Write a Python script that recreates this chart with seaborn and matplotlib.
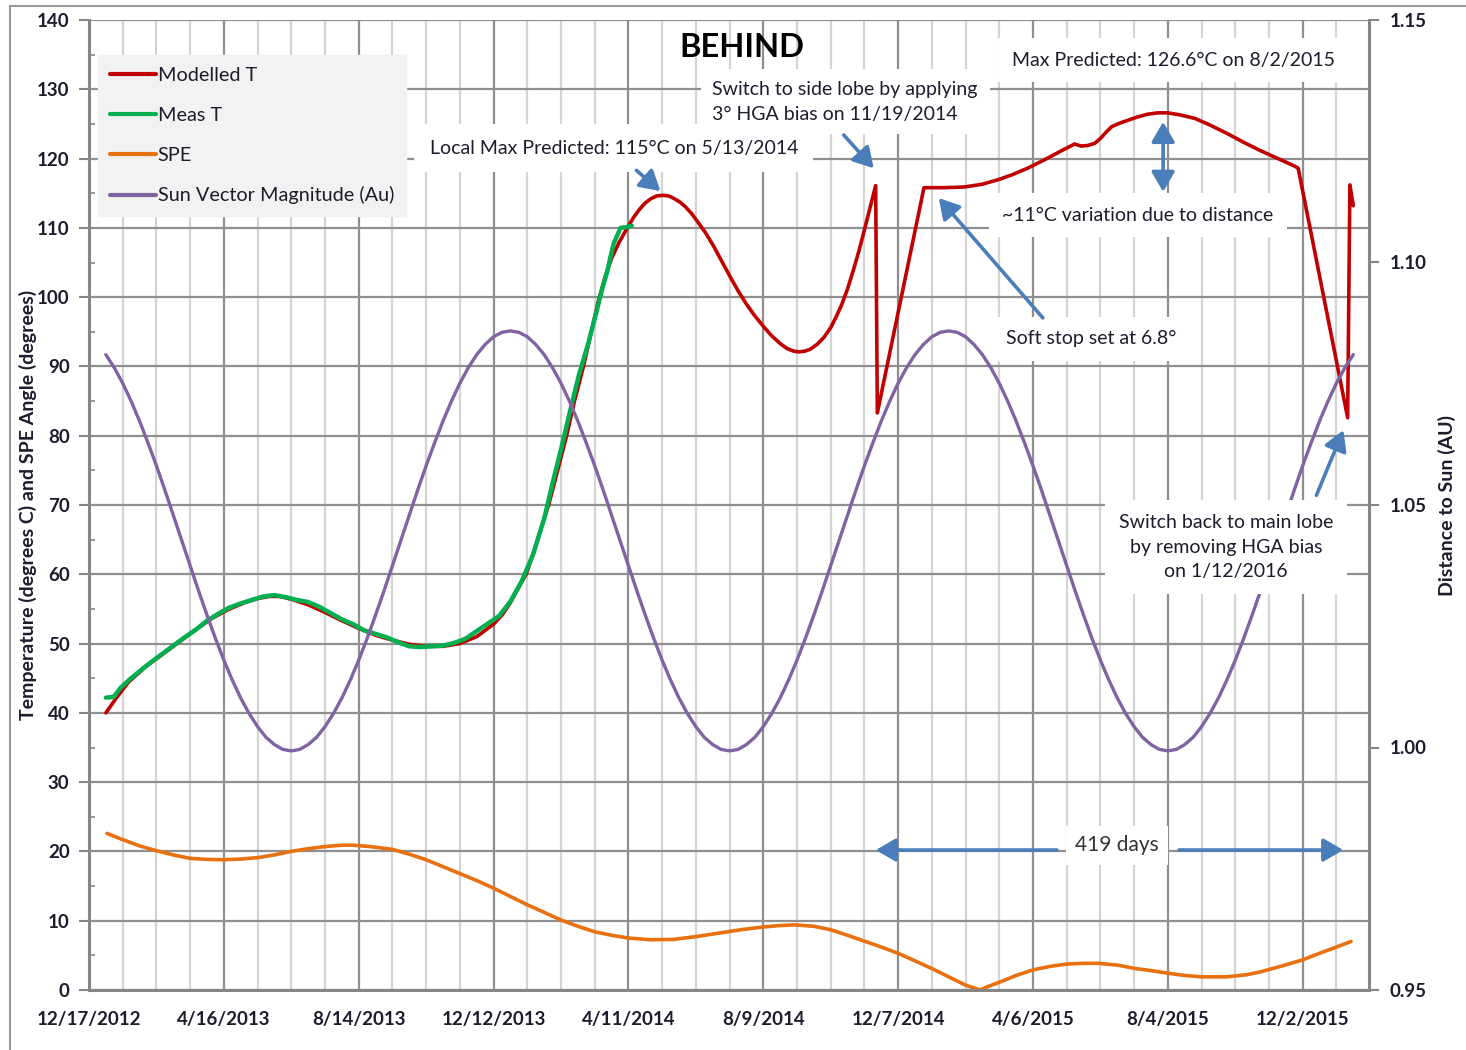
import numpy as np
import pandas as pd
import matplotlib
matplotlib.use("Agg")
import matplotlib.pyplot as plt
import matplotlib.dates as mdates
import matplotlib.ticker as mticker
from matplotlib.lines import Line2D
import seaborn as sns

# ---------------- data ----------------
start_date = "2012-12-17"
end_date = "2016-01-30"

x_tick_labels = ["12/17/2012", "4/16/2013", "8/14/2013", "12/12/2013", "4/11/2014",
                 "8/9/2014", "12/7/2014", "4/6/2015", "8/4/2015", "12/2/2015"]
left_ticks = [0, 10, 20, 30, 40, 50, 60, 70, 80, 90, 100, 110, 120, 130, 140]
right_ticks = [0.95, 1.00, 1.05, 1.10, 1.15]

# all x values are days since 12/17/2012
modelled_day = [15, 25, 35, 50, 65, 80, 95, 110, 125, 140, 150, 160, 170, 180, 195, 210,
                225, 240, 255, 270, 285, 300, 315, 330, 345, 360, 368, 375, 382, 389,
                396, 402, 409, 417, 425, 432, 440, 447, 453, 459, 465, 472, 479, 485,
                490, 495, 500, 505, 511, 516, 521, 526, 531, 536, 542, 549, 556, 563,
                571, 578, 585, 592, 600, 607, 615, 621, 627, 632, 637, 642, 648, 654,
                660, 665, 670, 675, 680, 685, 690, 695, 700, 701.5, 743, 761, 779, 795,
                810, 822, 835, 850, 865, 877, 883, 889, 895, 900, 905, 910, 917, 924,
                933, 942, 951, 960, 971, 984, 998, 1013, 1028, 1043, 1058, 1073, 1076,
                1120, 1122, 1125]
modelled_T = [40.0, 42.3, 44.4, 46.6, 48.4, 50.2, 52.0, 53.7, 55.0, 56.0, 56.5, 56.8, 56.8,
              56.4, 55.6, 54.5, 53.3, 52.2, 51.2, 50.5, 49.9, 49.6, 49.6, 50.0, 51.0, 52.8,
              54.2, 55.9, 58.0, 60.0, 63.3, 66.5, 70.0, 75.0, 80.0, 85.0, 90.0, 95.0, 99.3,
              102.8, 105.6, 108.0, 110.0, 111.6, 112.7, 113.6, 114.2, 114.6, 114.7, 114.6,
              114.2, 113.7, 113.0, 112.1, 110.8, 109.2, 107.3, 105.2, 102.8, 100.8, 99.0,
              97.4, 95.8, 94.5, 93.3, 92.6, 92.2, 92.1, 92.2, 92.5, 93.2, 94.2, 95.6, 97.2,
              99.0, 101.2, 103.8, 106.6, 109.7, 112.9, 116.1, 83.3, 115.8, 115.8, 115.9,
              116.3, 117.0, 117.7, 118.6, 119.8, 121.1, 122.1, 121.8, 121.9, 122.2, 122.9,
              123.8, 124.6, 125.1, 125.5, 126.0, 126.4, 126.6, 126.6, 126.3, 125.8, 124.8,
              123.6, 122.3, 121.1, 120.0, 118.9, 118.6, 82.6, 116.2, 113.2]

meas_day = [15, 22, 28, 36, 45, 55, 65, 75, 85, 95, 105, 115, 125, 135, 145, 155, 165,
            175, 185, 195, 205, 215, 225, 235, 245, 255, 265, 275, 285, 295, 305, 315,
            325, 335, 345, 355, 365, 375, 385, 395, 405, 413, 420, 428, 436, 444, 451,
            456, 461, 464, 467, 473, 478, 483]
meas_T = [42.2, 42.3, 43.6, 44.8, 46.0, 47.3, 48.5, 49.7, 50.9, 52.0, 53.3, 54.3, 55.2,
          55.8, 56.3, 56.8, 57.0, 56.7, 56.3, 56.0, 55.3, 54.4, 53.5, 52.8, 51.9, 51.4,
          50.9, 50.2, 49.6, 49.5, 49.6, 49.7, 50.1, 50.7, 51.8, 52.9, 54.0, 56.1, 59.0,
          62.8, 68.0, 73.5, 78.0, 83.5, 88.8, 93.2, 97.5, 100.8, 103.6, 105.8, 107.8,
          110.0, 110.1, 110.3]

spe_day = [16, 30, 45, 60, 75, 90, 105, 120, 135, 150, 165, 180, 195, 210, 225, 235, 250,
           270, 285, 300, 315, 330, 345, 360, 375, 390, 405, 420, 435, 450, 465, 480, 500,
           520, 540, 560, 580, 600, 615, 628, 645, 660, 675, 690, 705, 720, 735, 750, 765,
           780, 793, 800, 813, 825, 840, 855, 870, 885, 898, 915, 931, 945, 961, 975, 990,
           1012, 1030, 1042, 1060, 1079, 1095, 1110, 1123]
spe_deg = [22.6, 21.7, 20.8, 20.1, 19.5, 19.0, 18.85, 18.8, 18.9, 19.1, 19.5, 20.0, 20.4,
           20.7, 20.9, 20.9, 20.7, 20.3, 19.6, 18.8, 17.8, 16.8, 15.8, 14.7, 13.5, 12.3,
           11.2, 10.1, 9.2, 8.4, 7.9, 7.5, 7.25, 7.3, 7.7, 8.2, 8.7, 9.1, 9.3, 9.4, 9.2,
           8.7, 7.9, 7.05, 6.2, 5.3, 4.2, 3.1, 1.9, 0.7, 0.0, 0.5, 1.3, 2.1, 2.9, 3.4, 3.75,
           3.85, 3.85, 3.6, 3.1, 2.8, 2.4, 2.1, 1.9, 1.9, 2.2, 2.6, 3.4, 4.3, 5.3, 6.2, 7.0]

sun_day = [15, 22.5, 30, 37.5, 45, 52.5, 60, 67.5, 75, 82.5, 90, 97.5, 105, 112.5, 120,
           127.5, 135, 142.5, 150, 157.5, 165, 172.5, 180, 187.5, 195, 202.5, 210, 217.5,
           225, 232.5, 240, 247.5, 255, 262.5, 270, 277.5, 285, 292.5, 300, 307.5, 315,
           322.5, 330, 337.5, 345, 352.5, 360, 367.5, 375, 382.5, 390, 397.5, 405, 412.5,
           420, 427.5, 435, 442.5, 450, 457.5, 465, 472.5, 480, 487.5, 495, 502.5, 510,
           517.5, 525, 532.5, 540, 547.5, 555, 562.5, 570, 577.5, 585, 592.5, 600, 607.5,
           615, 622.5, 630, 637.5, 645, 652.5, 660, 667.5, 675, 682.5, 690, 697.5, 705,
           712.5, 720, 727.5, 735, 742.5, 750, 757.5, 765, 772.5, 780, 787.5, 795, 802.5,
           810, 817.5, 825, 832.5, 840, 847.5, 855, 862.5, 870, 877.5, 885, 892.5, 900,
           907.5, 915, 922.5, 930, 937.5, 945, 952.5, 960, 967.5, 975, 982.5, 990, 997.5,
           1005, 1012.5, 1020, 1027.5, 1035, 1042.5, 1050, 1057.5, 1065, 1072.5, 1080,
           1087.5, 1095, 1102.5, 1110, 1117.5, 1125]
sun_au = [1.0810, 1.0783, 1.0751, 1.0714, 1.0673, 1.0628, 1.0581, 1.0531, 1.0479, 1.0427,
          1.0375, 1.0323, 1.0273, 1.0225, 1.0180, 1.0139, 1.0102, 1.0070, 1.0043, 1.0021,
          1.0006, 0.9996, 0.9993,
          0.9996, 1.0006, 1.0021, 1.0043, 1.0070, 1.0102, 1.0139, 1.0180, 1.0225, 1.0273,
          1.0323, 1.0375, 1.0427, 1.0479, 1.0531, 1.0581, 1.0628, 1.0673, 1.0714, 1.0751,
          1.0783, 1.0810, 1.0831, 1.0847, 1.0856, 1.0859,
          1.0856, 1.0847, 1.0831, 1.0810, 1.0783, 1.0751, 1.0714, 1.0673, 1.0628, 1.0581,
          1.0531, 1.0479, 1.0427, 1.0375, 1.0323, 1.0273, 1.0225, 1.0180, 1.0139, 1.0102,
          1.0070, 1.0043, 1.0021, 1.0006, 0.9996, 0.9993,
          0.9996, 1.0006, 1.0021, 1.0043, 1.0070, 1.0102, 1.0139, 1.0180, 1.0225, 1.0273,
          1.0323, 1.0375, 1.0427, 1.0479, 1.0531, 1.0581, 1.0628, 1.0673, 1.0714, 1.0751,
          1.0783, 1.0810, 1.0831, 1.0847, 1.0856, 1.0859,
          1.0856, 1.0847, 1.0831, 1.0810, 1.0783, 1.0751, 1.0714, 1.0673, 1.0628, 1.0581,
          1.0531, 1.0479, 1.0427, 1.0375, 1.0323, 1.0273, 1.0225, 1.0180, 1.0139, 1.0102,
          1.0070, 1.0043, 1.0021, 1.0006, 0.9996, 0.9993,
          0.9996, 1.0006, 1.0021, 1.0043, 1.0070, 1.0102, 1.0139, 1.0180, 1.0225, 1.0273,
          1.0323, 1.0375, 1.0427, 1.0479, 1.0531, 1.0581, 1.0628, 1.0673, 1.0714, 1.0751,
          1.0783, 1.0810]

series_names = ["Modelled T", "Meas T", "SPE", "Sun Vector Magnitude (Au)"]
series_colors = ["#C00000", "#00B050", "#E8700E", "#8064A2"]

assert len(modelled_day) == len(modelled_T)
assert len(meas_day) == len(meas_T)
assert len(spe_day) == len(spe_deg)
assert len(sun_day) == len(sun_au)

# ---------------- styling ----------------
sns.set_style("white")
plt.rcParams["font.family"] = ["Lato", "DejaVu Sans"]
TXT = "#1c1c2c"
GRID_DARK = "#8f8f8f"
GRID_LIGHT = "#d4d4d4"
SPINE = "#868686"
BLUE = "#4A7EBB"

base = pd.Timestamp(start_date)


def to_dates(days):
    return base + pd.to_timedelta(np.asarray(days, dtype=float), unit="D")


def dnum(day):
    return mdates.date2num(base + pd.Timedelta(days=day))


df_mod = pd.DataFrame({"date": to_dates(modelled_day), "v": modelled_T})
df_meas = pd.DataFrame({"date": to_dates(meas_day), "v": meas_T})
df_spe = pd.DataFrame({"date": to_dates(spe_day), "v": spe_deg})
df_sun = pd.DataFrame({"date": to_dates(sun_day), "v": sun_au})

fig = plt.figure(figsize=(14.66, 10.5), dpi=100)
W, H = 1466, 1050
ax_l, ax_r, ax_t, ax_b = 89, 1369, 20, 990
ax = fig.add_axes([ax_l / W, 1 - ax_b / H, (ax_r - ax_l) / W, (ax_b - ax_t) / H])

sns.lineplot(data=df_mod, x="date", y="v", ax=ax, color=series_colors[0], lw=2.6,
             estimator=None, sort=False, legend=False)
sns.lineplot(data=df_meas, x="date", y="v", ax=ax, color=series_colors[1], lw=3.2,
             estimator=None, sort=False, legend=False)
sns.lineplot(data=df_spe, x="date", y="v", ax=ax, color=series_colors[2], lw=2.6,
             estimator=None, sort=False, legend=False)

ax2 = ax.twinx()
sns.lineplot(data=df_sun, x="date", y="v", ax=ax2, color=series_colors[3], lw=2.4,
             estimator=None, sort=False, legend=False)

# axes limits & ticks
ax.set_xlim(pd.Timestamp(start_date), pd.Timestamp(end_date))
ax.set_ylim(0, 140)
ax2.set_ylim(0.95, 1.15)

tick_dates = pd.to_datetime(x_tick_labels, format="%m/%d/%Y")
ax.set_xticks(mdates.date2num(tick_dates))
ax.set_xticklabels(x_tick_labels)
minor_dates = pd.date_range(pd.Timestamp(start_date), pd.Timestamp(end_date), freq="30D")
ax.set_xticks(mdates.date2num(minor_dates), minor=True)
ax.set_yticks(left_ticks)
ax.yaxis.set_minor_locator(mticker.MultipleLocator(5))
ax2.set_yticks(right_ticks)
ax2.yaxis.set_major_formatter(mticker.FormatStrFormatter("%.2f"))

ax.set_xlabel("")
ax2.set_xlabel("")
ax.set_ylabel("Temperature (degrees C) and SPE Angle (degrees)", fontsize=14,
              fontweight="bold", color=TXT)
ax2.set_ylabel("Distance to Sun (AU)", fontsize=14, fontweight="bold", color=TXT,
               rotation=90)
ax.yaxis.set_label_coords((37 - ax_l) / (ax_r - ax_l), 0.5)
ax2.yaxis.set_label_coords((1438 - ax_l) / (ax_r - ax_l), 0.5)

ax.tick_params(axis="x", which="major", length=7, width=1.5, color=SPINE, pad=8,
               labelsize=13.5, labelcolor=TXT)
ax.tick_params(axis="x", which="minor", length=0)
ax.tick_params(axis="y", which="major", length=7, width=1.5, color=SPINE, pad=7,
               labelsize=13.5, labelcolor=TXT)
ax.tick_params(axis="y", which="minor", length=4, width=1.2, color=SPINE, direction="in")
ax2.tick_params(axis="y", which="major", length=7, width=1.5, color=SPINE, pad=8,
                labelsize=13.5, labelcolor=TXT)
for lab in ax.get_xticklabels() + ax.get_yticklabels() + ax2.get_yticklabels():
    lab.set_fontweight("bold")

# gridlines
ax.set_axisbelow(True)
ax.grid(True, axis="x", which="minor", color=GRID_LIGHT, lw=1.6)
ax.grid(True, axis="x", which="major", color=GRID_DARK, lw=1.6)
ax.grid(True, axis="y", which="major", color=GRID_DARK, lw=1.6)
ax2.grid(False)

for a in (ax, ax2):
    for s in a.spines.values():
        s.set_visible(False)
for side in ("left", "bottom"):
    ax.spines[side].set_visible(True)
    ax.spines[side].set_color(SPINE)
    ax.spines[side].set_linewidth(2.2)
ax2.spines["right"].set_visible(True)
ax2.spines["right"].set_color(SPINE)
ax2.spines["right"].set_linewidth(2.2)

# legend
handles = [Line2D([], [], color=c, lw=3) for c in series_colors]
leg = ax2.legend(handles, series_names, loc="upper left",
                 bbox_to_anchor=((98 - ax_l) / (ax_r - ax_l), (ax_b - 55) / (ax_b - ax_t)),
                 borderaxespad=0, frameon=True, fancybox=False, framealpha=1,
                 facecolor="#F2F2F2", edgecolor="#F2F2F2", fontsize=14.3,
                 handlelength=2.3, handletextpad=0.1, labelspacing=1.15,
                 borderpad=0.6)
for t in leg.get_texts():
    t.set_color(TXT)
leg.set_zorder(20)


def note(day, val, text, ha="center", fs=14, color=TXT, pad=0.6):
    ax2.text(dnum(day), val, text, transform=ax.transData, ha=ha, va="center",
             fontsize=fs, color=color, zorder=30, linespacing=1.55,
             bbox=dict(boxstyle=f"square,pad={pad}", fc="white", ec="none"))


def arrow(d0, v0, d1, v1, style="-|>"):
    ax2.annotate("", xy=(dnum(d1), v1), xytext=(dnum(d0), v0),
                 xycoords=ax.transData, textcoords=ax.transData, zorder=31,
                 arrowprops=dict(arrowstyle=style + ",head_length=0.55,head_width=0.32",
                                 color=BLUE, lw=2.6, mutation_scale=22,
                                 shrinkA=0, shrinkB=0))


note(466.9, 121.5, "Local Max Predicted: 115°C on 5/13/2014", pad=0.8)
arrow(487.1, 118.3, 508.5, 115.3)

note(554.8, 128.2, "Switch to side lobe by applying\n3° HGA bias on 11/19/2014", ha="left",
     pad=0.6)
arrow(671.6, 123.4, 698.3, 118.6)

note(964.6, 134.2, "Max Predicted: 126.6°C on 8/2/2015", pad=0.7)

note(933.5, 111.8, "~11°C variation due to distance", pad=0.7)
arrow(955.8, 115.2, 955.8, 125.3, style="<|-|>")

note(891.6, 94.0, "Soft stop set at 6.8°", pad=0.7)
arrow(848.8, 97.0, 756.2, 114.3)

note(1011.9, 63.9, "Switch back to main lobe\nby removing HGA bias\non 1/12/2016", pad=0.7)
arrow(1092.2, 71.4, 1116.2, 80.8)

note(914.8, 20.9, "419 days", fs=15, color="#333333", pad=0.45)
arrow(861.3, 20.2, 700.1, 20.2)
arrow(970.0, 20.2, 1116.1, 20.2)

# title (drawn last so it stays above the note boxes)
ax2.text(dnum(580.7), 136.1, "BEHIND", transform=ax.transData, ha="center",
         va="center", fontsize=23.5, fontweight="bold", color="black", zorder=40)

# outer chart border (left and top edges)
fig.add_artist(Line2D([10 / W, 10 / W], [0, 1 - 6 / H], color="#9a9a9a", lw=1.5,
                      transform=fig.transFigure))
fig.add_artist(Line2D([10 / W, 1], [1 - 6 / H, 1 - 6 / H], color="#9a9a9a", lw=1.5,
                      transform=fig.transFigure))

fig.savefig("out.png", dpi=100)
